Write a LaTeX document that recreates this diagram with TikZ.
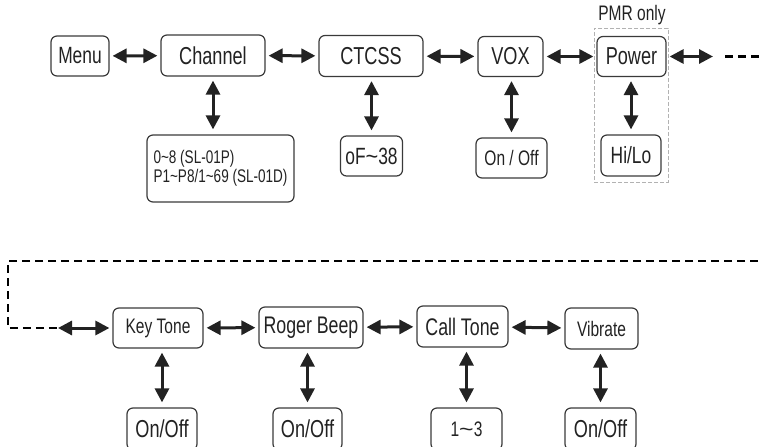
\documentclass[tikz,border=0pt]{standalone}
\usepackage{fontspec}
\setmainfont{Liberation Sans}[FakeStretch=0.74]
\usetikzlibrary{arrows.meta}
\definecolor{boxc}{HTML}{3A3A3A}
\definecolor{arrc}{HTML}{222222}
\newcommand{\wtil}[1]{\scalebox{#1}[1]{\textasciitilde}}
\tikzset{
  box/.style={draw=boxc, line width=1.2pt, rounded corners=6pt, inner sep=0pt, text=arrc, font=\fontsize{24.5}{26}\selectfont},
  smallbox/.style={box, font=\fontsize{21}{23}\selectfont},
  biarrow/.style={draw=arrc, line width=3pt, {Triangle[length=14pt,width=14pt]}-{Triangle[length=14pt,width=14pt]}, shorten <=3pt, shorten >=3pt},
  dashline/.style={draw=black, line width=2.5pt, dash pattern=on 8pt off 5pt},
  pmrbox/.style={draw=black!30, line width=1pt, dash pattern=on 4pt off 2pt, inner sep=0pt},
}
\begin{document}
\begin{tikzpicture}[x=1pt,y=-1pt]
\useasboundingbox (0,0) rectangle (763,447);
\clip (0,0) rectangle (763,447);
% top row
\node[pmrbox, minimum width=74pt, minimum height=154pt] (pmr) at (631,105) {};
\node[text=arrc, font=\fontsize{21}{23}\selectfont] (pmrt) at (632,15) {PMR only};
\node[box, minimum width=58pt, minimum height=40pt, font=\fontsize{23.5}{25}\selectfont] (menu) at (80,56) {Menu};
\node[box, minimum width=104pt, minimum height=41pt] (ch) at (213,55.5) {Channel};
\node[box, minimum width=104pt, minimum height=41pt] (ct) at (371,56) {CTCSS};
\node[box, minimum width=65pt, minimum height=40pt] (vox) at (510.5,56.5) {VOX};
\node[box, minimum width=69pt, minimum height=40pt] (pow) at (631.5,56.5) {Power};
\node[box, minimum width=147pt, minimum height=67pt, font=\fontsize{18.3}{19}\selectfont, align=left] (chv) at (220.5,168.5) {0\textasciitilde8 (SL-01P)\\P1\textasciitilde P8/1\textasciitilde69 (SL-01D)};
\node[box, minimum width=62pt, minimum height=40pt, font=\fontsize{23.5}{25}\selectfont] (ctv) at (371.5,156) {oF\wtil{1.25}38};
\node[smallbox, minimum width=71pt, minimum height=40pt] (voxv) at (511.5,158) {On / Off};
\node[box, minimum width=60pt, minimum height=41pt, font=\fontsize{23.5}{25}\selectfont] (powv) at (631,155.5) {Hi/Lo};
% bottom row
\node[smallbox, minimum width=90pt, minimum height=40pt, font=\fontsize{21}{23}\selectfont] (kt) at (158,328) {Key Tone};
\node[box, minimum width=104pt, minimum height=41pt, font=\fontsize{24}{26}\selectfont] (rb) at (311,327.5) {Roger Beep};
\node[box, minimum width=91pt, minimum height=41pt, font=\fontsize{24}{26}\selectfont] (ctn) at (462.5,326.5) {Call Tone};
\node[smallbox, minimum width=73pt, minimum height=41pt] (vib) at (601.5,328.5) {Vibrate};
\node[box, minimum width=70pt, minimum height=42pt] (ktv) at (162,429) {On/Off};
\node[box, minimum width=69pt, minimum height=42pt] (rbv) at (307.5,429) {On/Off};
\node[smallbox, minimum width=71pt, minimum height=42pt] (ctnv) at (466.5,429) {1\wtil{1.6}3};
\node[box, minimum width=71pt, minimum height=42pt] (vibv) at (600.5,429) {On/Off};
% connectors top
\draw[biarrow] (menu) -- (ch);
\draw[biarrow] (ch) -- (ct);
\draw[biarrow] (ct) -- (vox);
\draw[biarrow] (vox) -- (pow);
\coordinate (p1) at (716,56.5);
\coordinate (p2) at (763,56.5);
\coordinate (p3) at (725,56.5);
\draw[biarrow] (pow.east) -- (p1);
\draw[dashline] (p3) -- (p2);
\draw[biarrow, shorten <=4pt, shorten >=5pt] (ch.south) -- (chv.north -| ch.south);
\draw[biarrow, shorten <=4pt, shorten >=5pt] (ct.south -| ctv.north) -- (ctv.north);
\draw[biarrow, shorten <=4pt, shorten >=5pt] (vox.south -| voxv.north) -- (voxv.north);
\draw[biarrow, shorten <=4pt, shorten >=5pt] (pow.south -| powv.north) -- (powv.north);
% connectors bottom
\coordinate (d1) at (758,261);
\coordinate (d2) at (8,261);
\coordinate (d3) at (8,328);
\coordinate (d4) at (58,328);
\draw[dashline] (d1) -- (d2) -- (d3) -- (d4);
\draw[biarrow, shorten <=0pt] (d4) -- (kt);
\draw[biarrow] (kt) -- (rb);
\draw[biarrow] (rb) -- (ctn);
\draw[biarrow] (ctn) -- (vib);
\draw[biarrow, shorten <=4pt, shorten >=5pt] (kt.south -| ktv.north) -- (ktv.north);
\draw[biarrow, shorten <=4pt, shorten >=5pt] (rb.south -| rbv.north) -- (rbv.north);
\draw[biarrow, shorten <=4pt, shorten >=5pt] (ctn.south -| ctnv.north) -- (ctnv.north);
\draw[biarrow, shorten <=4pt, shorten >=5pt] (vib.south -| vibv.north) -- (vibv.north);
\end{tikzpicture}
\end{document}
